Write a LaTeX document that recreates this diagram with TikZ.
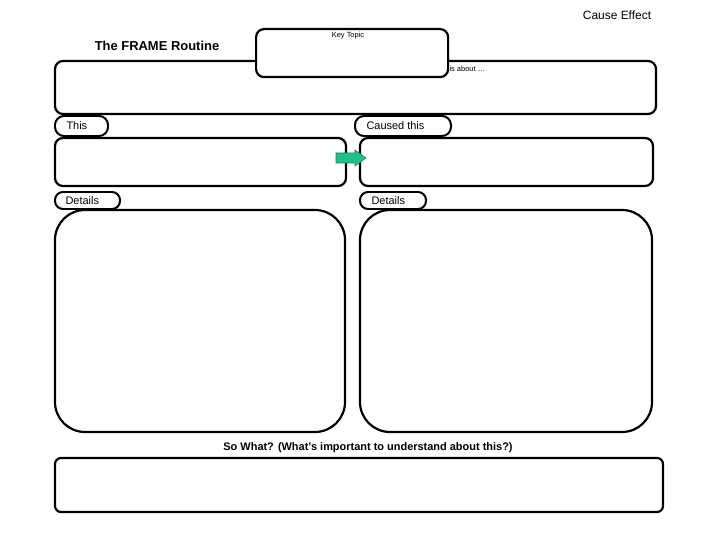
\documentclass[tikz,border=0pt]{standalone}
\usepackage{fontspec}
\setmainfont{Liberation Sans}
\definecolor{arr}{HTML}{20C08A}
\begin{document}
\begin{tikzpicture}[x=1bp,y=-1bp,
  box/.style={draw,line width=2.2pt,fill=white,rounded corners=8bp},
  tab/.style={draw,line width=2pt,fill=white,rounded corners=9bp,inner sep=0pt,anchor=north west,font=\fontsize{11}{13}\selectfont,text width=#1,align=left,minimum width=#1},
  tl/.style={anchor=west,font=\fontsize{11}{13}\selectfont}]
\useasboundingbox (0,0) rectangle (720,540);
\node[font=\fontsize{12}{14}\selectfont] (ce) at (617,15) {Cause Effect};
\node[font=\bfseries\fontsize{13}{15}\selectfont] (fr) at (157,46) {The FRAME Routine};
\draw[box] (55,61) rectangle (656,114);
\node[box,minimum width=192bp,minimum height=48bp,anchor=north west] (kt) at (255,28) {};
\node[font=\fontsize{7.5}{9}\selectfont] (ktl) at (348,36) {Key Topic};
\node[font=\fontsize{7.5}{9}\selectfont,anchor=west] (ab) at (446,69) {is about \dots};
\draw[box] (55,138) rectangle (346,186);
\draw[box] (360,138) rectangle (653,186);
\draw[box,rounded corners=9bp,line width=2pt] (55,116) rectangle (108,136);
\node[tl] (t1) at (63,126) {This};
\draw[box,rounded corners=9bp,line width=2pt] (355,116) rectangle (451,136);
\node[tl] (t2) at (363,126) {Caused this};
\draw[fill=arr,draw=arr!70!black,line width=0.6pt]
  (336,153) -- (355,153) -- (355,150) -- (366,158) -- (355,166) -- (355,163) -- (336,163) -- cycle;
\draw[box,rounded corners=30bp] (55,210) rectangle (345,432);
\draw[box,rounded corners=30bp] (360,210) rectangle (652,432);
\draw[box,rounded corners=8bp,line width=2pt] (55,192) rectangle (120,209);
\node[tl] (d1) at (62,201) {Details};
\draw[box,rounded corners=8bp,line width=2pt] (360,192) rectangle (426,209);
\node[tl] (d2) at (368,201) {Details};
\node[font=\bfseries\fontsize{11}{13}\selectfont] (sw) at (368,448) {So What? (What's important to understand about this?)};
\draw[box,rounded corners=6bp] (55,458) rectangle (663,512);
\end{tikzpicture}
\end{document}
